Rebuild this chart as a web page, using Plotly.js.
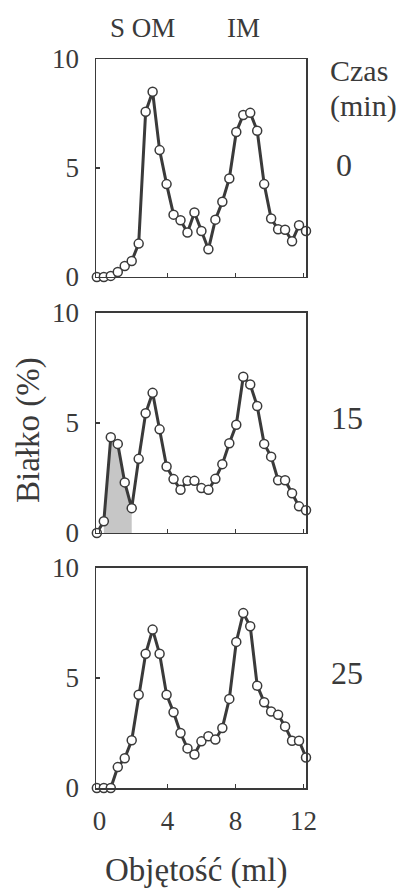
<!DOCTYPE html>
<html>
<head>
<meta charset="utf-8">
<script src="https://cdn.plot.ly/plotly-3.0.1.min.js"></script>
<style>html,body{margin:0;padding:0;background:#fff;}#chart{width:399px;height:888px;}</style>
</head>
<body>
<div id="chart"></div>
<script>
// Fraction volumes (ml)
const volume = [-0.15, 0.26, 0.67, 1.08, 1.49, 1.9, 2.31, 2.72, 3.13, 3.54, 3.95, 4.36, 4.77, 5.18, 5.59, 6.0,
  6.41, 6.82, 7.23, 7.64, 8.05, 8.46, 8.87, 9.28, 9.69, 10.1, 10.51, 10.92, 11.33, 11.74, 12.15];
// Protein (%) per fraction, at each time
const protein0 = [0, 0, 0.05, 0.23, 0.5, 0.73, 1.53, 7.58, 8.5, 5.82, 4.26, 2.86, 2.6, 2.04, 2.96, 2.11,
  1.27, 2.63, 3.45, 4.52, 6.65, 7.43, 7.53, 6.71, 4.26, 2.68, 2.19, 2.17, 1.64, 2.37, 2.11];
const protein15 = [0, 0.53, 4.35, 4.05, 2.3, 1.13, 3.37, 5.44, 6.37, 4.71, 3.02, 2.45, 1.96, 2.37, 2.37, 2.04,
  1.96, 2.46, 3.13, 4.08, 4.92, 7.1, 6.75, 5.77, 4.05, 3.47, 2.4, 2.4, 1.81, 1.21, 1.03];
const protein25 = [0, 0, 0, 0.95, 1.35, 2.17, 4.24, 6.1, 7.2, 6.1, 4.24, 3.44, 2.5, 1.8, 1.52, 2.12,
  2.35, 2.2, 2.73, 4.05, 6.64, 7.95, 7.35, 4.65, 3.9, 3.48, 3.33, 2.8, 2.15, 2.15, 1.39];
const timeLabels = ["0", "15", "25"];
const xTicks = [0, 4, 8, 12];
const yTicks = [0, 5, 10];
const shadeStart = 1, shadeEnd = 6; // fractions shaded (S peak) in the 15 min panel

const ink = '#3a3a3a';
const FONT = '"Liberation Serif", serif';

function lineTrace(y, xa, ya) {
  return {
    x: volume, y: y, xaxis: xa, yaxis: ya, type: 'scatter', mode: 'lines+markers',
    cliponaxis: false,
    line: {color: ink, width: 3},
    marker: {symbol: 'circle', size: 9, color: '#ffffff', line: {color: ink, width: 1.5}},
    hoverinfo: 'x+y', showlegend: false
  };
}

const shade = {
  x: volume.slice(shadeStart, shadeEnd), y: protein15.slice(shadeStart, shadeEnd),
  xaxis: 'x2', yaxis: 'y2', type: 'scatter', mode: 'lines', fill: 'tozeroy',
  fillcolor: '#c6c6c6', line: {width: 0, color: 'rgba(0,0,0,0)'}, showlegend: false, hoverinfo: 'skip'
};

const data = [
  lineTrace(protein0, 'x', 'y'),
  shade,
  lineTrace(protein15, 'x2', 'y2'),
  lineTrace(protein25, 'x3', 'y3')
];

function xax(anchor, showLabels) {
  return {
    domain: [0, 1], anchor: anchor, range: [-0.2, 12.15],
    tickmode: 'array', tickvals: xTicks, ticktext: xTicks.map(String),
    showticklabels: showLabels, ticks: 'inside', ticklen: 4, tickwidth: 1.2, tickcolor: ink,
    showline: true, mirror: true, linecolor: ink, linewidth: 1.5,
    showgrid: false, zeroline: false, fixedrange: true,
    tickfont: {family: FONT, size: 27, color: ink}, ticklabelstandoff: 8
  };
}
function yax(anchor, domain) {
  return {
    domain: domain, anchor: anchor, range: [0, 10],
    tickmode: 'array', tickvals: yTicks, ticktext: yTicks.map(String),
    ticks: 'inside', ticklen: 4, tickwidth: 1.2, tickcolor: ink,
    showline: true, mirror: true, linecolor: ink, linewidth: 1.5,
    showgrid: false, zeroline: false, fixedrange: true,
    tickfont: {family: FONT, size: 27, color: ink}, ticklabelstandoff: 10
  };
}

const annFont = (s) => ({family: FONT, size: s, color: ink});
const annotations = [
  {text: 'S OM', xref: 'paper', yref: 'paper', x: 0.221, y: 1.0425, xanchor: 'center', yanchor: 'middle', showarrow: false, font: annFont(27)},
  {text: 'IM', xref: 'paper', yref: 'paper', x: 0.702, y: 1.0425, xanchor: 'center', yanchor: 'middle', showarrow: false, font: annFont(27)},
  {text: 'Czas', xref: 'paper', yref: 'paper', x: 1.105, y: 0.984, xanchor: 'left', yanchor: 'middle', showarrow: false, font: annFont(30)},
  {text: '(min)', xref: 'paper', yref: 'paper', x: 1.105, y: 0.935, xanchor: 'left', yanchor: 'middle', showarrow: false, font: annFont(30)},
  {text: timeLabels[0], xref: 'paper', yref: 'paper', x: 1.181, y: 0.8546, xanchor: 'center', yanchor: 'middle', showarrow: false, font: annFont(32)},
  {text: timeLabels[1], xref: 'paper', yref: 'paper', x: 1.195, y: 0.5075, xanchor: 'center', yanchor: 'middle', showarrow: false, font: annFont(32)},
  {text: timeLabels[2], xref: 'paper', yref: 'paper', x: 1.195, y: 0.1577, xanchor: 'center', yanchor: 'middle', showarrow: false, font: annFont(32)},
  {text: 'Białko (%)', xref: 'paper', yref: 'paper', x: -0.324, y: 0.491, xanchor: 'center', yanchor: 'middle', textangle: -90, showarrow: false, font: annFont(33)},
  {text: 'Objętość (ml)', xref: 'paper', yref: 'paper', x: 0.476, y: -0.1125, xanchor: 'center', yanchor: 'middle', showarrow: false, font: annFont(33)}
];

const layout = {
  width: 399, height: 888,
  margin: {l: 96, r: 93, t: 59, b: 100},
  paper_bgcolor: '#ffffff', plot_bgcolor: '#ffffff',
  font: {family: FONT, color: ink},
  showlegend: false,
  xaxis: xax('y', false),
  yaxis: yax('x', [0.701, 1]),
  xaxis2: xax('y2', false),
  yaxis2: yax('x2', [0.3498, 0.6516]),
  xaxis3: xax('y3', true),
  yaxis3: yax('x3', [0, 0.3018]),
  annotations: annotations
};

Plotly.newPlot('chart', data, layout, {displayModeBar: false, staticPlot: true});
</script>
</body>
</html>
